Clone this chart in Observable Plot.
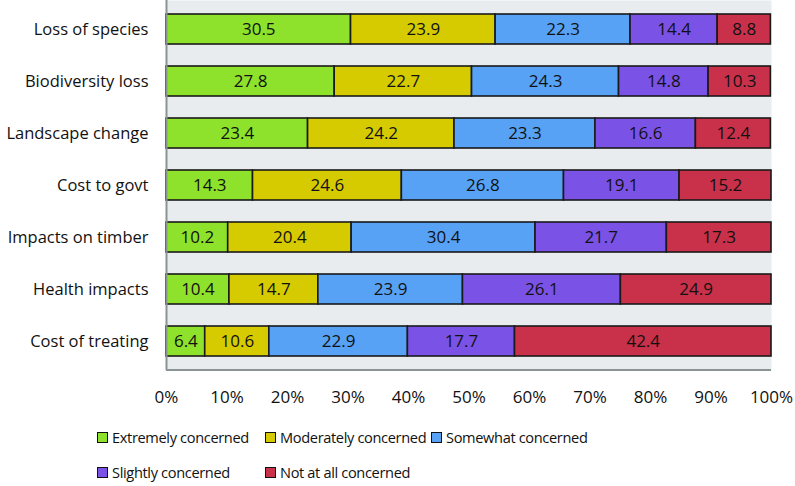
<!DOCTYPE html>
<html>
<head>
<meta charset="utf-8">
<script src="https://cdn.jsdelivr.net/npm/d3@7"></script>
<script src="https://cdn.jsdelivr.net/npm/@observablehq/plot@0.6"></script>
<style>
  body { margin: 0; background: #fff; font-family: "Open Sans", sans-serif; }
  #chart { position: relative; width: 795px; height: 486px; }
  .legend { position: absolute; font-size: 14.6px; letter-spacing: -0.35px; color: #111; }
  .legend .item { position: absolute; white-space: nowrap; display: flex; align-items: center; }
  .legend .sw { width: 9px; height: 9px; border: 1px solid #111; margin-right: 4px; }
</style>
</head>
<body>
<div id="chart"></div>
<script>
const categories = ["Loss of species", "Biodiversity loss", "Landscape change", "Cost to govt", "Impacts on timber", "Health impacts", "Cost of treating"];
const seriesNames = ["Extremely concerned", "Moderately concerned", "Somewhat concerned", "Slightly concerned", "Not at all concerned"];
const extremely = [30.5, 27.8, 23.4, 14.3, 10.2, 10.4, 6.4];
const moderately = [23.9, 22.7, 24.2, 24.6, 20.4, 14.7, 10.6];
const somewhat = [22.3, 24.3, 23.3, 26.8, 30.4, 23.9, 22.9];
const slightly = [14.4, 14.8, 16.6, 19.1, 21.7, 26.1, 17.7];
const notAtAll = [8.8, 10.3, 12.4, 15.2, 17.3, 24.9, 42.4];
const colors = ["#8ee22c", "#d6cb00", "#58a2f5", "#7a52e6", "#c9304a"];
const xTicks = [0, 10, 20, 30, 40, 50, 60, 70, 80, 90, 100];

const seriesValues = [extremely, moderately, somewhat, slightly, notAtAll];
const data = [];
categories.forEach((c, i) => {
  seriesNames.forEach((s, j) => {
    data.push({category: c, series: s, value: seriesValues[j][i]});
  });
});

const plot = Plot.plot({
  width: 795,
  height: 410,
  marginLeft: 166,
  marginRight: 24,
  marginTop: 0,
  marginBottom: 40,
  style: {fontFamily: "Open Sans, sans-serif", fontSize: "17px", color: "#111", background: "white"},
  x: {domain: [0, 100], label: null},
  y: {domain: categories, paddingInner: 0.43, paddingOuter: 0.22, align: 0.5, label: null},
  color: {domain: seriesNames, range: colors},
  marks: [
    Plot.frame({fill: "#e9ecee", stroke: null}),
    Plot.barX(data, Plot.stackX({x: "value", y: "category", fill: "series", z: "series", order: seriesNames, stroke: "#1a1a1a", strokeWidth: 1.6})),
    Plot.text(data, Plot.stackX({x: "value", y: "category", z: "series", order: seriesNames, text: d => d.value.toFixed(1), fill: "#111", fontSize: 17})),
    Plot.ruleX([0], {stroke: "#8a9494", strokeWidth: 2}),
    Plot.axisX({ticks: xTicks, tickFormat: d => d + "%", tickSize: 0, tickPadding: 20, fontSize: 17}),
    Plot.axisY({tickSize: 0, tickPadding: 18, fontSize: 16.5})
  ]
});

const container = document.getElementById("chart");
container.appendChild(plot);

// bottom border line of plot area
const svg = d3.select(plot);
svg.append("line")
  .attr("x1", 166).attr("x2", 771)
  .attr("y1", 370).attr("y2", 370)
  .attr("stroke", "#8a9494").attr("stroke-width", 2);

// legend
const legend = document.createElement("div");
legend.className = "legend";
legend.style.left = "0px";
legend.style.top = "0px";
const positions = [[97, 438], [265, 438], [431, 438], [97, 473], [265, 473]];
seriesNames.forEach((s, i) => {
  const item = document.createElement("div");
  item.className = "item";
  item.style.left = positions[i][0] + "px";
  item.style.top = (positions[i][1] - 11) + "px";
  const sw = document.createElement("div");
  sw.className = "sw";
  sw.style.background = colors[i];
  const t = document.createElement("span");
  t.textContent = s;
  item.appendChild(sw);
  item.appendChild(t);
  legend.appendChild(item);
});
container.appendChild(legend);
</script>
</body>
</html>
